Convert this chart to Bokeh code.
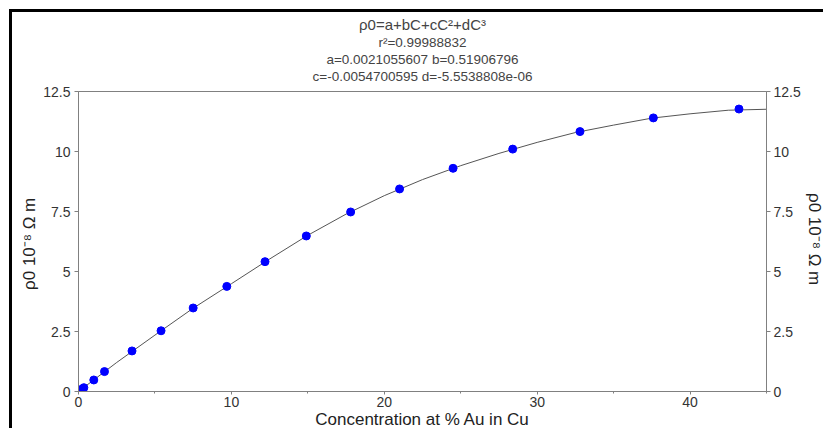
from bokeh.plotting import figure
from bokeh.models import Range1d, LinearAxis, SingleIntervalTicker, CustomJSTickFormatter, Title
from bokeh.embed import file_html
from bokeh.resources import INLINE

conc = [0, 0.2, 0.35, 1.0, 1.7, 3.5, 5.4, 7.5, 9.7, 12.2, 14.9, 17.8, 21.0, 24.5, 28.4, 32.8, 37.6, 43.2]
rho = [0, 0.09, 0.16, 0.48, 0.83, 1.69, 2.53, 3.48, 4.38, 5.41, 6.48, 7.48, 8.44, 9.30, 10.10, 10.83, 11.40, 11.77]

# fitted curve
fit_conc = [0, 2.5, 5, 7.5, 10, 12.5, 15, 17.5, 20, 22.5, 25, 27.5, 30, 32.5, 35, 37.5, 40, 42.5, 45]
fit_rho = [0, 1.21, 2.35, 3.47, 4.49, 5.52, 6.51, 7.39, 8.16, 8.83, 9.41, 9.92, 10.38, 10.79, 11.10, 11.39, 11.57, 11.72, 11.76]

title_main = "ρ0=a+bC+cC²+dC³"
title_fit = ["r²=0.99988832",
             "a=0.0021055607 b=0.51906796",
             "c=-0.0054700595 d=-5.5538808e-06"]
x_label = "Concentration at % Au in Cu"
y_label = "ρ0  10⁻⁸ Ω m"

FONT = "Liberation Sans"
GREY = "#808080"

p = figure(width=814, height=419, x_range=Range1d(0, 45), y_range=Range1d(0, 12.5),
           output_backend="svg", toolbar_location=None,
           min_border_left=66, min_border_right=54, min_border_top=79, min_border_bottom=5)
p.styles = {"margin-left": "9px", "margin-top": "9px",
            "border-top": "3px solid black", "border-left": "3px solid black"}
p.xgrid.visible = False
p.ygrid.visible = False
p.outline_line_color = GREY

# title block: main formula on top, fit statistics below it
p.title.text = title_main
p.title.align = "center"
p.title.text_font = FONT
p.title.text_font_size = "15px"
p.title.text_font_style = "normal"
p.title.standoff = 0
# p.above is filled from the frame outwards; a blank line keeps the block off the frame
p.add_layout(Title(text=" ", text_font_size="5px", standoff=0), "above")
for line in reversed(title_fit):
    p.add_layout(Title(text=line, align="center", text_font=FONT, text_font_size="13.5px",
                       text_font_style="normal", standoff=0), "above")

fmt = CustomJSTickFormatter(code="return String(tick)")

xa = p.xaxis[0]
xa.ticker = SingleIntervalTicker(interval=10, num_minor_ticks=2)
xa.axis_label = x_label
xa.axis_label_standoff = 0
xa.major_label_standoff = 2

ya = p.yaxis[0]
ya.ticker = SingleIntervalTicker(interval=2.5, num_minor_ticks=0)
ya.axis_label = y_label
ya.axis_label_standoff = 1
ya.major_label_standoff = 4

ra = LinearAxis(ticker=SingleIntervalTicker(interval=2.5, num_minor_ticks=0), axis_label=y_label)
ra.major_label_standoff = 3
ra.axis_label_standoff = 1
p.add_layout(ra, "right")

for ax in (xa, ya, ra):
    ax.formatter = fmt
    ax.axis_line_color = GREY
    ax.major_tick_line_color = GREY
    ax.minor_tick_line_color = GREY
    ax.major_tick_in = 0
    ax.major_tick_out = 4
    ax.minor_tick_in = 0
    ax.minor_tick_out = 2
    ax.major_label_text_font = FONT
    ax.major_label_text_font_size = "14px"
    ax.major_label_text_color = "#333333"
    ax.axis_label_text_font = FONT
    ax.axis_label_text_font_size = "17px"
    ax.axis_label_text_font_style = "normal"
    ax.axis_label_text_color = "#222222"
xa.major_tick_out = 3

p.line(fit_conc, fit_rho, line_color="#555555", line_width=1)
p.scatter(conc, rho, size=8, color="#0000ff")

open("out.html", "w").write(file_html(p, INLINE))
